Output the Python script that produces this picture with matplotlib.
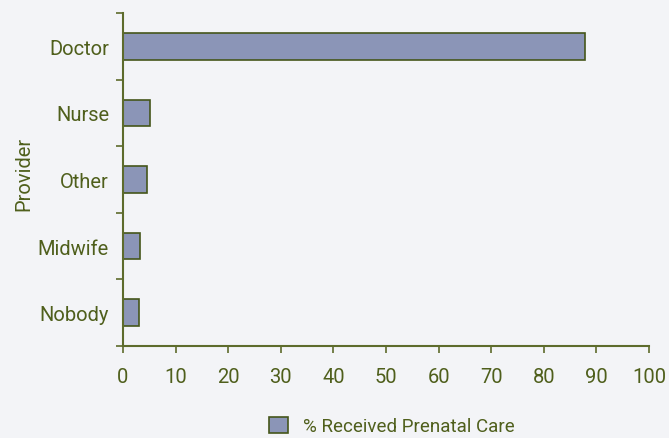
import matplotlib
matplotlib.use("Agg")
import matplotlib.pyplot as plt
from matplotlib.patches import Patch

categories = ["Doctor", "Nurse", "Other", "Midwife", "Nobody"]
values = [87.8, 5.1, 4.5, 3.2, 3.0]
xticks = [0, 10, 20, 30, 40, 50, 60, 70, 80, 90, 100]
series_name = "% Received Prenatal Care"

text_c = "#4f5f1c"
line_c = "#5d6b2c"
bar_c = "#8b95b7"
edge_c = "#45561a"
bg = "#f3f4f7"

plt.rcParams['font.family'] = ['Roboto', 'DejaVu Sans']
fs = 14.5

fig = plt.figure(figsize=(6.69, 4.39), dpi=100, facecolor=bg)
ax = fig.add_axes([123/669, 1-347/439, (649-123)/669, (347-14)/439])
ax.set_facecolor(bg)

n = len(categories)
ypos = [n - 1 - i for i in range(n)]
ax.barh(ypos, values, height=0.4, color=bar_c, edgecolor=edge_c, linewidth=1.2)

ax.set_xlim(0, 100)
ax.set_ylim(-0.5, n - 0.5)
ax.set_xticks(xticks)
ax.set_xticklabels([str(t) for t in xticks])
ax.set_yticks(ypos)
ax.set_yticklabels(categories)
ax.set_yticks([i - 0.5 for i in range(n + 1)], minor=True)
ax.tick_params(axis='y', which='major', length=0, pad=10, labelsize=fs, labelcolor=text_c)
ax.tick_params(axis='y', which='minor', length=5, width=1.2, color=line_c)
ax.tick_params(axis='x', which='major', length=5, width=1.2, color=line_c, pad=10, labelsize=fs, labelcolor=text_c)

for s in ['top', 'right']:
    ax.spines[s].set_visible(False)
for s in ['left', 'bottom']:
    ax.spines[s].set_color(line_c)
    ax.spines[s].set_linewidth(1.5)

ax.set_ylabel("Provider", color=text_c, fontsize=fs)
ax.yaxis.set_label_coords(-0.17, 0.52)

leg = fig.legend(handles=[Patch(facecolor=bar_c, edgecolor=edge_c, linewidth=1.2, label=series_name)],
                 loc='center', bbox_to_anchor=(392/669, 1-427/439), frameon=False,
                 fontsize=13.5, labelcolor=text_c, handlelength=1.0, handleheight=1.0, handletextpad=0.8)

fig.savefig("out.png", dpi=100, facecolor=bg)
